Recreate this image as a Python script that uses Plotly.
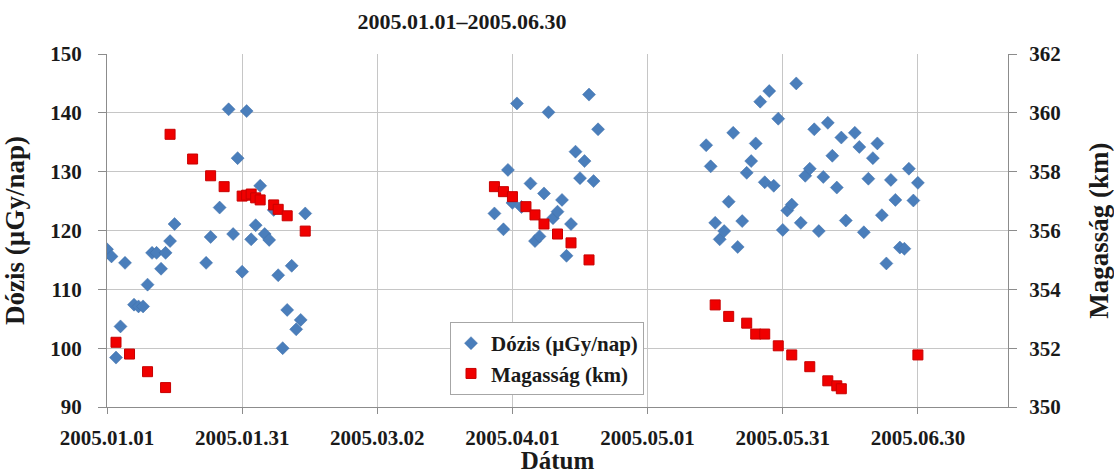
import plotly.graph_objects as go
from datetime import date, timedelta

# ---------------- data ----------------
dose_dates = [
    "2005-01-01", "2005-01-02", "2005-01-03", "2005-01-04", "2005-01-05", "2005-01-07",
    "2005-01-08", "2005-01-09", "2005-01-10", "2005-01-11", "2005-01-12", "2005-01-13",
    "2005-01-14", "2005-01-15", "2005-01-16", "2005-01-23", "2005-01-24", "2005-01-26",
    "2005-01-28", "2005-01-29", "2005-01-30", "2005-01-31", "2005-02-01", "2005-02-02",
    "2005-02-03", "2005-02-04", "2005-02-05", "2005-02-06", "2005-02-07", "2005-02-08",
    "2005-02-09", "2005-02-10", "2005-02-11", "2005-02-12", "2005-02-13", "2005-02-14",
    "2005-03-28", "2005-03-30", "2005-03-31", "2005-04-01", "2005-04-02", "2005-04-03",
    "2005-04-05", "2005-04-06", "2005-04-07", "2005-04-08", "2005-04-09", "2005-04-10",
    "2005-04-11", "2005-04-12", "2005-04-13", "2005-04-14", "2005-04-15", "2005-04-16",
    "2005-04-17", "2005-04-18", "2005-04-19", "2005-04-20",
    "2005-05-14", "2005-05-15", "2005-05-16", "2005-05-17", "2005-05-18", "2005-05-19",
    "2005-05-20", "2005-05-21", "2005-05-22", "2005-05-23", "2005-05-24", "2005-05-25",
    "2005-05-26", "2005-05-27", "2005-05-28", "2005-05-29", "2005-05-30", "2005-05-31",
    "2005-06-01", "2005-06-02", "2005-06-03", "2005-06-04", "2005-06-05", "2005-06-06",
    "2005-06-07", "2005-06-08", "2005-06-09", "2005-06-10", "2005-06-11", "2005-06-12",
    "2005-06-13", "2005-06-14", "2005-06-16", "2005-06-17", "2005-06-18", "2005-06-19",
    "2005-06-20", "2005-06-21", "2005-06-22", "2005-06-23", "2005-06-24", "2005-06-25",
    "2005-06-26", "2005-06-27", "2005-06-28", "2005-06-29", "2005-06-30",
]
dose_values = [
    116.8, 115.6, 98.4, 103.7, 114.5, 107.4,
    107.1, 107.1, 110.8, 116.2, 116.2, 113.5,
    116.2, 118.2, 121.1, 114.5, 118.9, 123.9,
    140.6, 119.4, 132.3, 113.0, 140.3, 118.5,
    120.9, 127.6, 119.4, 118.4, 123.5, 112.4,
    100.0, 106.5, 114.0, 103.2, 104.8, 122.9,
    122.9, 120.2, 130.3, 124.7, 141.6, 124.0,
    128.0, 118.2, 119.0, 126.3, 140.1, 122.1,
    123.2, 125.2, 115.7, 121.1, 133.4, 128.9,
    131.8, 143.1, 128.4, 137.2,
    134.5, 130.9, 121.3, 118.5, 119.9, 124.9,
    136.6, 117.2, 121.6, 129.8, 131.8, 134.8,
    141.9, 128.2, 143.7, 127.6, 139.0, 120.1,
    123.4, 124.4, 145.0, 121.3, 129.3, 130.5,
    137.2, 119.9, 129.1, 138.3, 132.7, 127.3,
    135.8, 121.7, 136.6, 134.2, 119.7, 128.8,
    132.3, 134.8, 122.6, 114.4, 128.6, 125.2,
    117.1, 116.9, 130.5, 125.1, 128.1,
]

alt_dates = [
    "2005-01-03", "2005-01-06", "2005-01-10", "2005-01-14", "2005-01-15", "2005-01-20",
    "2005-01-24", "2005-01-27", "2005-01-31", "2005-02-01", "2005-02-02", "2005-02-03",
    "2005-02-04", "2005-02-07", "2005-02-08", "2005-02-10", "2005-02-14",
    "2005-03-28", "2005-03-30", "2005-04-01", "2005-04-04", "2005-04-06", "2005-04-08",
    "2005-04-11", "2005-04-14", "2005-04-18",
    "2005-05-16", "2005-05-19", "2005-05-23", "2005-05-25", "2005-05-27", "2005-05-30",
    "2005-06-02", "2005-06-06", "2005-06-10", "2005-06-12", "2005-06-13", "2005-06-30",
]
alt_values = [
    352.2, 351.8, 351.2, 350.66, 359.27, 358.43,
    357.86, 357.49, 357.17, 357.2, 357.24, 357.11,
    357.04, 356.87, 356.72, 356.5, 355.98,
    357.49, 357.32, 357.15, 356.81, 356.53, 356.22,
    355.88, 355.58, 355.0,
    353.47, 353.08, 352.85, 352.48, 352.48, 352.08,
    351.77, 351.37, 350.89, 350.72, 350.62, 351.77,
]

x_tick_labels = ["2005.01.01", "2005.01.31", "2005.03.02", "2005.04.01",
                 "2005.05.01", "2005.05.31", "2005.06.30"]
title_text = "2005.01.01\u20132005.06.30"
dose_name = "Dózis (µGy/nap)"
alt_name = "Magasság (km)"
x_title = "Dátum"

# ---------------- figure ----------------
FONT = "Liberation Serif"
start = date(2005, 1, 1)
tick_vals = [(start + timedelta(days=30 * i)).isoformat() for i in range(len(x_tick_labels))]

fig = go.Figure()
fig.add_trace(go.Scatter(
    x=dose_dates, y=dose_values, mode="markers", name=dose_name,
    marker=dict(symbol="diamond", size=10, color="#4a7ebb",
                line=dict(width=0.5, color="#3f6fa8")),
))
fig.add_trace(go.Scatter(
    x=alt_dates, y=alt_values, mode="markers", name=alt_name, yaxis="y2",
    marker=dict(symbol="square", size=10, color="#f00000",
                line=dict(width=1, color="#c80000")),
))

grid = "#c6c6c6"
axline = "#8c8c8c"
txt = "#1a1a1a"
tickfont = dict(family=FONT, size=21, color=txt, weight="bold")

fig.update_layout(
    width=1114, height=474,
    margin=dict(l=107, r=106, t=54, b=67, autoexpand=False),
    paper_bgcolor="white", plot_bgcolor="white",
    title=dict(text=title_text, x=462 / 1114, xref="container", xanchor="center",
               y=1 - 21 / 474, yref="container", yanchor="middle",
               font=dict(family=FONT, size=22, color=txt, weight="bold")),
    xaxis=dict(
        type="date", range=["2005-01-01", "2005-07-20"],
        tickmode="array", tickvals=tick_vals, ticktext=x_tick_labels,
        showgrid=True, gridcolor=grid, gridwidth=1,
        showline=True, linecolor=axline, linewidth=1,
        ticks="outside", ticklen=6, tickcolor=axline,
        ticklabelstandoff=6,
        tickfont=tickfont, zeroline=False,
        title=dict(text=x_title, standoff=8,
                   font=dict(family=FONT, size=25, color=txt, weight="bold")),
    ),
    yaxis=dict(
        range=[90, 150], tick0=90, dtick=10,
        showgrid=True, gridcolor=grid, gridwidth=1,
        showline=True, linecolor=axline, linewidth=1,
        ticks="outside", ticklen=8, tickcolor=axline,
        ticklabelstandoff=12,
        tickfont=tickfont, zeroline=False,
        title=dict(text=dose_name, standoff=17,
                   font=dict(family=FONT, size=27, color=txt, weight="bold")),
    ),
    yaxis2=dict(
        range=[350, 362], tick0=350, dtick=2, overlaying="y", side="right",
        showgrid=False,
        showline=True, linecolor=axline, linewidth=1,
        ticks="outside", ticklen=8, tickcolor=axline,
        ticklabelstandoff=8,
        tickfont=tickfont, zeroline=False,
        title=dict(text=alt_name, standoff=40,
                   font=dict(family=FONT, size=27, color=txt, weight="bold")),
    ),
    legend=dict(
        x=(450 - 107) / 901, xanchor="left", y=(407 - 322) / 353, yanchor="top",
        bgcolor="white", bordercolor="#a6a6a6", borderwidth=1,
        font=dict(family=FONT, size=21, color=txt, weight="bold"),
        itemwidth=30, tracegroupgap=0,
    ),
    showlegend=True,
)

fig.write_html("out.html")
